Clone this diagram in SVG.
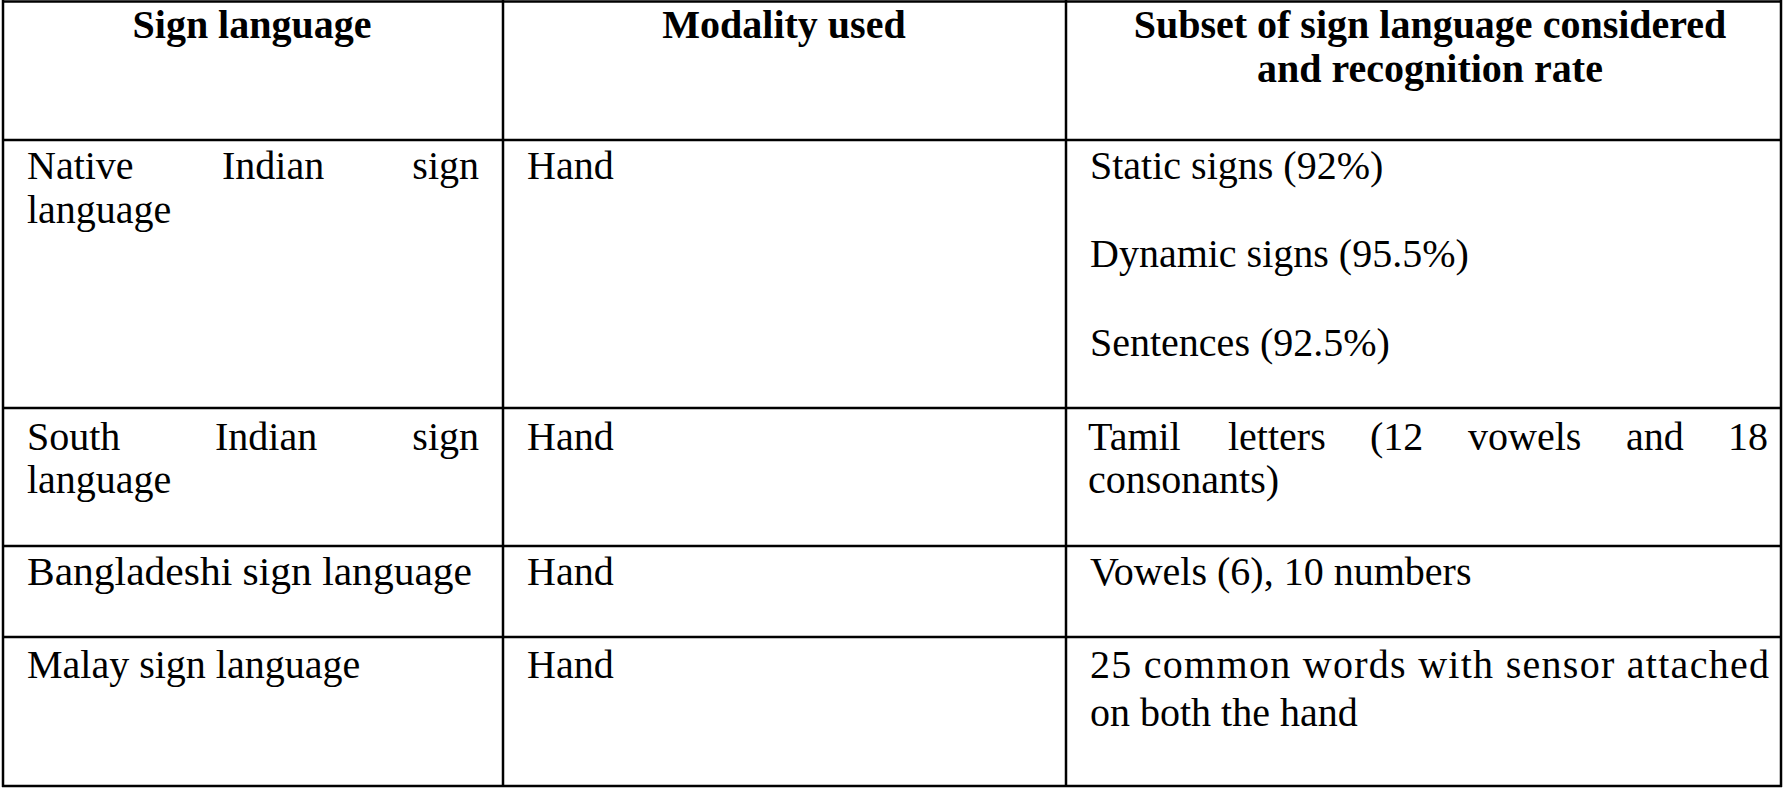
<svg xmlns="http://www.w3.org/2000/svg" width="1784" height="789" viewBox="0 0 1784 789">
<style>
text{font-family:"Liberation Serif","Times New Roman",serif;font-size:40px;fill:#000}
.h{font-weight:bold;text-anchor:middle}
.e{text-anchor:end}
line{stroke:#000;stroke-width:2.5}
</style>
<rect width="1784" height="789" fill="#fff"/>
<g id="grid">
<line x1="2" y1="1.5" x2="1782" y2="1.5"/>
<line x1="2" y1="140" x2="1782" y2="140"/>
<line x1="2" y1="408" x2="1782" y2="408"/>
<line x1="2" y1="546" x2="1782" y2="546"/>
<line x1="2" y1="637" x2="1782" y2="637"/>
<line x1="2" y1="786" x2="1782" y2="786"/>
<line x1="3" y1="0" x2="3" y2="787"/>
<line x1="503" y1="0" x2="503" y2="787"/>
<line x1="1066" y1="0" x2="1066" y2="787"/>
<line x1="1781" y1="0" x2="1781" y2="787"/>
</g>
<g id="header">
<text class="h" x="252" y="38">Sign language</text>
<text class="h" x="784" y="38">Modality used</text>
<text class="h" x="1430" y="38">Subset of sign language considered</text>
<text class="h" x="1430" y="82">and recognition rate</text>
</g>
<g id="row1">
<text x="27" y="179">Native</text>
<text x="222" y="179">Indian</text>
<text class="e" x="479" y="179">sign</text>
<text x="27" y="223">language</text>
<text x="527" y="179">Hand</text>
<text x="1090" y="179">Static signs (92%)</text>
<text x="1090" y="267">Dynamic signs (95.5%)</text>
<text x="1090" y="356">Sentences (92.5%)</text>
</g>
<g id="row2">
<text x="27" y="450">South</text>
<text x="215" y="450">Indian</text>
<text class="e" x="479" y="450">sign</text>
<text x="27" y="493">language</text>
<text x="527" y="450">Hand</text>
<text x="1088" y="450">Tamil</text>
<text x="1228" y="450">letters</text>
<text x="1370" y="450">(12</text>
<text x="1468" y="450">vowels</text>
<text x="1626" y="450">and</text>
<text class="e" x="1768" y="450">18</text>
<text x="1088" y="493">consonants)</text>
</g>
<g id="row3">
<text x="27" y="585" textLength="445" lengthAdjust="spacingAndGlyphs">Bangladeshi sign language</text>
<text x="527" y="585">Hand</text>
<text x="1090" y="585">Vowels (6), 10 numbers</text>
</g>
<g id="row4">
<text x="27" y="678">Malay sign language</text>
<text x="527" y="678">Hand</text>
<text x="1090" y="678" textLength="679" lengthAdjust="spacing">25 common words with sensor attached</text>
<text x="1090" y="726">on both the hand</text>
</g>
</svg>
